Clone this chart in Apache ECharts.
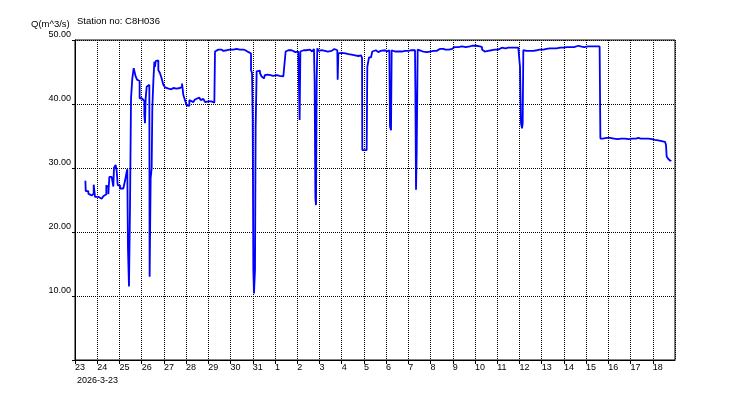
<!DOCTYPE html>
<html>
<head>
<meta charset="utf-8">
<script src="https://cdn.jsdelivr.net/npm/echarts@6/dist/echarts.min.js"></script>
<style>html,body{margin:0;padding:0;background:#fff;}#c{width:750px;height:400px;}</style>
</head>
<body>
<div id="c"></div>
<script>
// hours since 2026-03-23 00:00
const hours = [11.2,11.6,14.4,16,18,19.8,20.2,21.6,25.2,28.8,30.6,32.4,33.8,34.9,36,37.1,39.6,41.4,42.1,43.9,45,46.1,48.6,52.2,54,55.8,56.5,57.2,58.3,59.4,60.5,61.9,63.4,65.5,67,68.4,69.8,72,73.8,74.9,75.6,76.3,77.4,79.2,80.3,80.6,81.7,82.8,83.5,84.6,85.7,86.4,87.1,88.6,90,91.8,93.6,95.4,97.2,99,101,102.6,104,106.2,108,109.8,111.5,113.4,115.6,116.3,117,118.8,120.6,121.7,123.5,125.5,127.8,129.5,131.4,134.3,135.7,137,138.6,140.5,142.2,144,145.8,147.5,149.4,150.5,
151.2,153,154.8,156,158,160.2,162,164,166,167.4,169,171,173,174.6,176,178,180,181.8,184,186.1,187.5,189,190.1,191.2,191.9,192.6,193.3,194.4,195.1,
196.2,198,199.8,201.6,203,204.1,205,206.3,208,209,211,212.4,214,216,218,219.6,221,223,225,226.8,
227.5,229,230.4,232,234,235.8,238,239.5,241.2,242.3,242.6,243.4,245,247,248.4,250,252,253.8,256,258.1,258.8,259.6,260.3,261,
261.7,263,265,266.4,268,270,271.8,273,275,277.2,279,280,281.5,283.3,283.7,284.4,286,288,289.8,292,293.5,295.2,297,298.8,300.5,302.4,304,306,307.5,308.9,310,310.3,315,315.7,317.5,319.7,
321.1,323,325,327.6,330,332,334.8,337,339.5,340.2,341.3,342,344,345.5,347.4,349,351,353,354.6,356.5,358,360,361.8,363.5,365.4,367.2,367.6,368.3,369,
370.1,372,374,376.2,378,380,381.5,383.4,385,387,389,390.6,392,394,396,397.8,400,402,404,405.7,407.2,410,412,414,415.8,418,420,422,424,426.6,429,431,433,435,437.4,439.6,441,442.5,444.6,446,448,450,451.8,453.5,455,457,459,461,463,465,466.2,468,470,472,473.4,475,477,478.8,479.9,480.6,481.7,482.8,483.5,
484.2,486,488,489.6,491,493,495,497,499,500.4,502,504,506,507.6,509,511,513,515,516.5,518.4,520,522,524,526,527.5,529.2,531,533,535,537,539,541,543.6,546,548,550,552,554,556,558,560,562,564,566.6,
567.4,570,572,574,576,578,579.6,582,584,586,588,590,592,594,596,598,600,602,604,606,608.4,611,613,615,617,619.2,621,623,624.5,626.4,628,630,632,633.6,635,637.2,638.3,639,640.8,641.5,643.3];
const flow = [28.0,26.4,26.0,25.7,25.9,26.0,27.4,25.5,25.2,25.0,25.6,25.9,27.3,27.0,25.9,28.6,28.5,27.1,30.0,30.5,29.6,27.3,26.8,26.8,28.0,29.4,29.8,17.4,11.5,23.7,40.9,44.0,45.6,44.3,43.8,43.6,40.9,40.6,40.5,38.3,37.0,40.8,42.7,43.0,41.0,13.0,28.4,30.0,39.3,43.5,46.6,45.8,46.7,46.8,45.3,44.8,44.0,43.0,42.6,42.4,42.6,42.3,42.5,42.7,42.4,42.2,42.5,42.7,43.2,43.5,41.4,40.6,39.8,39.7,40.6,40.3,40.4,40.7,41.0,41.3,40.6,40.8,40.5,40.3,40.4,40.2,40.4,40.3,40.2,40.1,
48.2,48.5,48.3,48.5,48.3,48.6,48.4,48.3,48.5,48.3,48.5,48.4,48.6,48.4,48.5,48.3,48.5,48.4,48.3,48.1,48.2,47.9,45.3,44.8,38.0,14.1,10.4,14.1,36.5,
45.1,45.2,44.8,44.3,44.0,43.9,44.5,44.6,44.3,44.5,44.2,44.4,44.3,44.5,44.3,44.4,44.2,44.3,44.0,44.2,
48.2,48.4,48.2,48.4,48.3,48.1,48.4,48.2,48.5,48.3,37.5,48.2,48.4,48.2,48.4,48.2,48.5,48.2,48.4,48.6,43.5,25.3,24.2,43.5,
48.7,48.3,48.4,48.2,48.3,48.1,48.2,48.0,48.3,48.2,48.6,48.3,48.4,48.2,43.8,47.9,48.0,47.7,47.9,47.6,47.8,47.6,47.7,47.4,47.6,47.8,47.5,47.4,47.6,47.7,47.2,32.8,32.8,45.8,47.3,47.6,
48.2,48.4,48.1,48.3,48.2,48.4,48.2,48.4,48.3,36.5,35.9,48.4,48.2,48.0,48.2,48.0,48.2,48.1,48.3,48.1,48.3,48.2,48.4,48.2,48.4,48.3,42.4,26.6,32.3,
48.5,48.3,48.2,48.3,48.1,48.3,48.2,48.4,48.3,48.5,48.3,48.4,48.6,48.4,48.6,48.5,48.7,48.5,48.7,48.6,48.9,49.0,48.9,49.1,49.0,49.1,48.9,49.1,49.0,49.1,49.0,49.1,48.9,49.0,48.9,48.5,48.2,48.4,48.3,48.5,48.4,48.6,48.5,48.7,48.5,48.6,48.8,48.6,48.7,48.6,48.8,48.7,48.8,48.6,48.8,48.7,48.8,48.7,46.9,45.8,37.0,36.2,37.0,
48.4,48.3,48.5,48.3,48.4,48.3,48.5,48.4,48.6,48.5,48.7,48.5,48.8,48.6,48.8,48.7,48.9,48.7,48.8,48.7,48.9,48.8,49.0,48.8,49.0,48.9,49.0,48.9,49.1,48.9,49.0,49.1,49.0,49.1,48.9,49.1,49.0,49.1,49.0,49.1,49.0,49.1,49.0,49.0,
34.6,34.5,34.7,34.6,34.7,34.5,34.6,34.7,34.5,34.7,34.6,34.7,34.6,34.7,34.5,34.7,34.6,34.7,34.6,34.7,34.6,34.7,34.6,34.7,34.6,34.6,34.5,34.5,34.4,34.4,34.3,34.4,34.2,34.3,34.1,34.0,33.6,31.8,31.4,31.1,31.25];
const startDate = [2026, 2, 23];
const startLabel = '2026-3-23';
const yTitle = 'Q(m^3/s)';
const stationTitle = 'Station no: C8H036';

const chart = echarts.init(document.getElementById('c'), null, {renderer: 'canvas'});
const fontFam = 'Arial, "Liberation Sans", sans-serif';
chart.setOption({
  animation: false,
  backgroundColor: '#fff',
  grid: {left: 75, right: 75, top: 40, bottom: 40, show: true, borderColor: '#000', borderWidth: 1, containLabel: false},
  graphic: [
    {type: 'text', left: 31, top: 19, style: {text: yTitle, font: '9.5px ' + fontFam, fill: '#000'}},
    {type: 'text', left: 77, top: 16, style: {text: stationTitle, font: '9.5px ' + fontFam, fill: '#000'}},
    {type: 'text', left: 77, top: 376, style: {text: startLabel, font: '9px ' + fontFam, fill: '#000'}}
  ],
  xAxis: {
    type: 'value', min: 0, max: 648, interval: 24,
    axisLine: {show: true, lineStyle: {color: '#000', width: 1}},
    axisTick: {show: true, length: 4, lineStyle: {color: '#000'}},
    splitLine: {show: true, lineStyle: {color: '#000', type: 'dotted', width: 1}},
    axisLabel: {
      showMinLabel: true, showMaxLabel: false, hideOverlap: false, align: 'left', margin: 3, color: '#000', fontSize: 9, fontFamily: fontFam,
      formatter: function (v) {
        const d = new Date(startDate[0], startDate[1], startDate[2] + Math.round(v / 24));
        return String(d.getDate());
      }
    }
  },
  yAxis: {
    type: 'value', min: 0, max: 50, interval: 10,
    axisLine: {show: true, lineStyle: {color: '#000', width: 1}},
    axisTick: {show: true, length: 3, lineStyle: {color: '#000'}},
    splitLine: {show: true, lineStyle: {color: '#000', type: 'dotted', width: 1}},
    axisLabel: {
      margin: 4, color: '#000', fontSize: 9, fontFamily: fontFam, verticalAlign: 'bottom', lineHeight: 11,
      formatter: function (v) { return v === 0 ? '' : v.toFixed(2); }
    }
  },
  series: [{
    type: 'line', symbol: 'none', silent: true, step: 'end',
    lineStyle: {color: '#0000ff', width: 1.8},
    data: hours.map((h, i) => [h, flow[i]])
  }]
});
</script>
</body>
</html>
